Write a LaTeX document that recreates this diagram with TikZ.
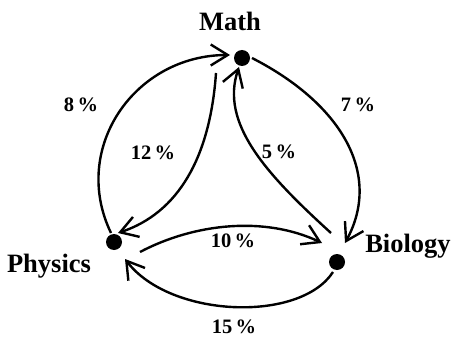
\documentclass[tikz,border=0pt]{standalone}
\usepackage{fontspec}
\setmainfont{Liberation Serif}
\usetikzlibrary{arrows.meta}

\begin{document}
\begin{tikzpicture}[x=1pt, y=1pt, line width=2.4pt, >={Straight Barb[length=17pt, width=21pt]},
	dot/.style={circle, fill, inner sep=0pt, minimum size=16pt},
	subject/.style={anchor=base, font=\fontsize{26.5}{31}\selectfont\bfseries},
	pct/.style={anchor=base, font=\fontsize{20.5}{24}\selectfont\bfseries}]
	\useasboundingbox (0,0) rectangle (452,338);
	% the three subjects
	\node[dot] (math) at (242,280) {};
	\node[dot] (phys) at (114,96) {};
	\node[dot] (bio) at (337,76) {};
	\node[subject] (lmath) at (230,307) {Math};
	\node[subject] (lphys) at (49,66) {Physics};
	\node[subject] (lbio) at (408,86) {Biology};
	% flows
	\draw[->] ([shift={(-3,9)}]phys.center) .. controls +(-41,85) and +(-95,0) .. ([shift={(-12,3)}]math.center);
	\draw[->] ([shift={(-26,-15)}]math.center) .. controls +(-6,-85) and +(60,20) .. ([shift={(4,9)}]phys.center);
	\draw[->] ([shift={(-6,29)}]bio.center) .. controls +(-66,60) and +(-19,-56) .. ([shift={(-3,-9)}]math.center);
	\draw[->] ([shift={(10,0)}]math.center) .. controls +(88,-45) and +(38,70) .. ([shift={(8,19)}]bio.center);
	\draw[->] ([shift={(26,-10)}]phys.center) .. controls +(55,29) and +(-57,27) .. ([shift={(-15,19)}]bio.center);
	\draw[->] ([shift={(-4,-10)}]bio.center) .. controls +(-33,-51) and +(45,-59) .. ([shift={(11,-17)}]phys.center);
	% shares
	\node[pct] (p8) at (81,226) {8\,\%};
	\node[pct] (p12) at (153,179) {12\,\%};
	\node[pct] (p5) at (279,180) {5\,\%};
	\node[pct] (p7) at (358,226) {7\,\%};
	\node[pct] (p10) at (233,91) {10\,\%};
	\node[pct] (p15) at (234,5) {15\,\%};
\end{tikzpicture}
\end{document}
